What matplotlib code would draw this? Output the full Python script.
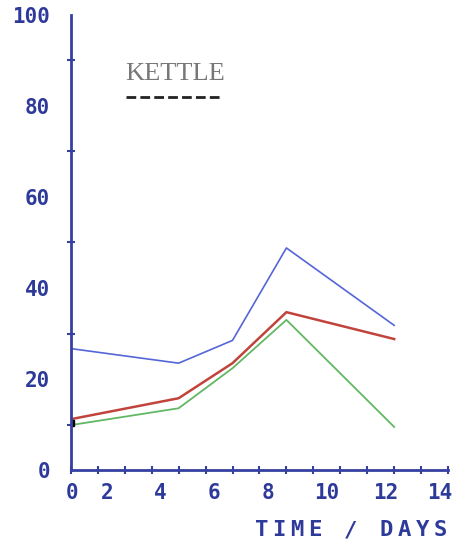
import matplotlib.pyplot as plt
import numpy as np

# days and readings
days = [0, 4, 6, 8, 12]
blue_vals = [26.7, 23.5, 28.5, 48.8, 31.8]
red_vals = [11.2, 15.8, 23.5, 34.7, 28.8]
green_vals = [9.9, 13.6, 22.4, 33.0, 9.5]

ytick_vals = [0, 20, 40, 60, 80, 100]
xtick_text = ['0', '2', '4', '6', '8', '10', '12', '14']
# the typed labels sit a little left of their ticks in the original
xtick_pos = [0.05, 1.35, 3.3, 5.3, 7.3, 9.5, 11.7, 13.7]

axis_col = '#3540a0'
label_col = '#2e3a9a'

fig = plt.figure(figsize=(4.54, 5.48), dpi=100)
ax = fig.add_axes([0.156, 0.142, 0.831, 0.831])

ax.plot(days, blue_vals, color='#5566d6', lw=1.2)
ax.plot(days, red_vals, color='#c0443c', lw=1.8)
ax.plot(days, green_vals, color='#62b862', lw=1.3)
ax.plot([0], [10.3], marker='s', ms=4, color='black')

ax.set_xlim(0, 14)
ax.set_ylim(0, 100)

for s in ['top', 'right']:
    ax.spines[s].set_visible(False)
for s in ['left', 'bottom']:
    ax.spines[s].set_color(axis_col)
    ax.spines[s].set_linewidth(2)

# tick marks every unit, labels placed separately
ax.set_xticks(np.arange(0, 15, 1), minor=True)
ax.set_yticks(np.arange(0, 101, 10), minor=True)
ax.tick_params(which='minor', direction='inout', length=6, width=1.5, color=axis_col)
ax.set_xticks(xtick_pos)
ax.set_xticklabels(xtick_text)
ax.set_yticks(ytick_vals)
ax.set_yticklabels([str(v) for v in ytick_vals])
ax.tick_params(which='major', length=0, labelcolor=label_col)
ax.tick_params(axis='x', which='major', pad=9)
ax.tick_params(axis='y', which='major', pad=15)
for t in ax.get_xticklabels() + ax.get_yticklabels():
    t.set_fontfamily('DejaVu Sans Mono')
    t.set_fontweight('bold')
    t.set_fontsize(15)

# plotter lettering is widely spaced, so set the axis title letter by letter
xlabel = 'TIME / DAYS'
for i, ch in enumerate(xlabel):
    ax.text(7.07 + i * 0.663, -13.2, ch, color=label_col, fontsize=16,
            fontweight='bold', family='DejaVu Sans Mono', ha='center',
            va='center', clip_on=False)

# legend-like key
ax.text(2.0, 87, 'KETTLE', color='#777777', fontsize=19,
        family='Liberation Serif', va='center')
ax.plot([2.05, 5.65], [82, 82], color='#222222', lw=2,
        dashes=(3.5, 1.5))

plt.savefig('out.png', dpi=100)
